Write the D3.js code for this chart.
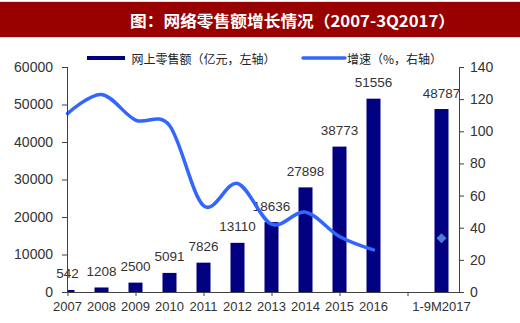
<!DOCTYPE html>
<html><head><meta charset="utf-8">
<script src="https://cdn.jsdelivr.net/npm/d3@7"></script>
<style>body{margin:0;background:#fff}svg{display:block}</style>
</head><body>
<svg id="c" width="520" height="323"></svg>
<script>
const title = "图：网络零售额增长情况（2007-3Q2017）";
const categories = ["2007","2008","2009","2010","2011","2012","2013","2014","2015","2016","","1-9M2017"];
const salesIdx = [0,1,2,3,4,5,6,7,8,9,11];
const sales = [542,1208,2500,5091,7826,13110,18636,27898,38773,51556,48787];
const growthIdx = [0,1,2,3,4,5,6,7,8,9];
const growth = [111,122.9,107,103.6,53.7,67.5,42.2,49.7,34.5,26.2];
const growthLastIdx = 11;
const growthLast = 33.5;
const leftTicks = [0,10000,20000,30000,40000,50000,60000];
const rightTicks = [0,20,40,60,80,100,120,140];
const legendLabels = ["网上零售额（亿元，左轴）","增速（%，右轴）"];

const svg = d3.select("#c");
const L = 67, R = 459, T = 67, B = 292;
const x = d3.scaleLinear().domain([0,11]).range([67.5,441.5]);
const yL = d3.scaleLinear().domain([0,60000]).range([B,T]);
const yR = d3.scaleLinear().domain([0,140]).range([B,T]);
const axisCol = "#404040", txtCol = "#333";
const numFont = "'Liberation Sans', Arial, sans-serif";
const cjkFont = "'Noto Sans CJK SC', sans-serif";

// title bar
svg.append("rect").attr("x",0).attr("y",1).attr("width",520).attr("height",37).attr("fill","#ecd6d6");
svg.append("rect").attr("x",0).attr("y",2).attr("width",520).attr("height",35).attr("fill","#990000");
svg.append("text").attr("x",130).attr("y",20).attr("dominant-baseline","central")
  .attr("fill","#fff").attr("font-family",cjkFont).attr("font-weight","bold").attr("font-size",16)
  .attr("textLength",325).attr("lengthAdjust","spacingAndGlyphs").text(title);

// clip
svg.append("clipPath").attr("id","pc").append("rect").attr("x",L).attr("y",0).attr("width",R-L).attr("height",B);

// bars
svg.append("g").attr("clip-path","url(#pc)").selectAll("rect").data(sales).join("rect")
  .attr("x",(d,k)=>x(salesIdx[k])-7).attr("width",14)
  .attr("y",d=>yL(d)).attr("height",d=>B-yL(d)).attr("fill","#000080");

// bar labels
svg.append("g").selectAll("text").data(sales).join("text")
  .attr("x",(d,k)=>x(salesIdx[k])).attr("y",d=>yL(d)-11.5)
  .attr("text-anchor","middle").attr("font-family",numFont).attr("font-size",13.5).attr("fill",txtCol)
  .text(d=>d);

// line
const line = d3.line().x((d,k)=>x(growthIdx[k])).y(d=>yR(d)).curve(d3.curveCatmullRom.alpha(0));
svg.append("path").datum(growth).attr("d",line).attr("fill","none")
  .attr("stroke","#3366ff").attr("stroke-width",3.5).attr("stroke-linecap","round");
// diamond marker
svg.append("path").attr("d",d3.symbol(d3.symbolSquare,50)())
  .attr("transform",`translate(${x(growthLastIdx)},${yR(growthLast)}) rotate(45)`).attr("fill","#4a7fd8");

// axes
const gL = svg.append("g").attr("transform",`translate(${L},0)`)
  .call(d3.axisLeft(yL).tickValues(leftTicks).tickSize(5).tickPadding(9).tickFormat(d3.format("d")));
const gR = svg.append("g").attr("transform",`translate(${R},0)`)
  .call(d3.axisRight(yR).tickValues(rightTicks).tickSize(5).tickPadding(6));
const gB = svg.append("g").attr("transform",`translate(0,${B})`)
  .call(d3.axisBottom(x).tickValues([0,2,4,6,8,10]).tickSize(4).tickFormat(""));
[gL,gR,gB].forEach(g=>{
  g.select(".domain").remove();
  g.selectAll(".tick line").attr("stroke",axisCol);
  g.selectAll("text").attr("font-family",numFont).attr("font-size",14).attr("fill",txtCol);
});
svg.append("line").attr("x1",L+0.5).attr("x2",L+0.5).attr("y1",T).attr("y2",B).attr("stroke",axisCol);
svg.append("line").attr("x1",R+0.5).attr("x2",R+0.5).attr("y1",T).attr("y2",B).attr("stroke",axisCol);
svg.append("line").attr("x1",L).attr("x2",R+1).attr("y1",B+0.5).attr("y2",B+0.5).attr("stroke",axisCol);

// x labels
svg.append("g").selectAll("text").data(categories).join("text")
  .attr("x",(d,k)=>x(k)).attr("y",310.5).attr("text-anchor","middle")
  .attr("font-family",numFont).attr("font-size",13).attr("fill",txtCol).text(d=>d);

// legend
const lg = svg.append("g");
lg.append("rect").attr("x",87).attr("y",56).attr("width",38).attr("height",4).attr("fill","#000080");
lg.append("text").attr("x",131.5).attr("y",58).attr("dominant-baseline","central")
  .attr("font-family",cjkFont).attr("font-size",12).attr("fill","#222").text(legendLabels[0]);
lg.append("line").attr("x1",303).attr("x2",345).attr("y1",58).attr("y2",58).attr("stroke","#3366ff").attr("stroke-width",3.5).attr("stroke-linecap","round");
lg.append("text").attr("x",347).attr("y",58).attr("dominant-baseline","central")
  .attr("font-family",cjkFont).attr("font-size",12).attr("fill","#222").text(legendLabels[1]);
</script>
</body></html>
